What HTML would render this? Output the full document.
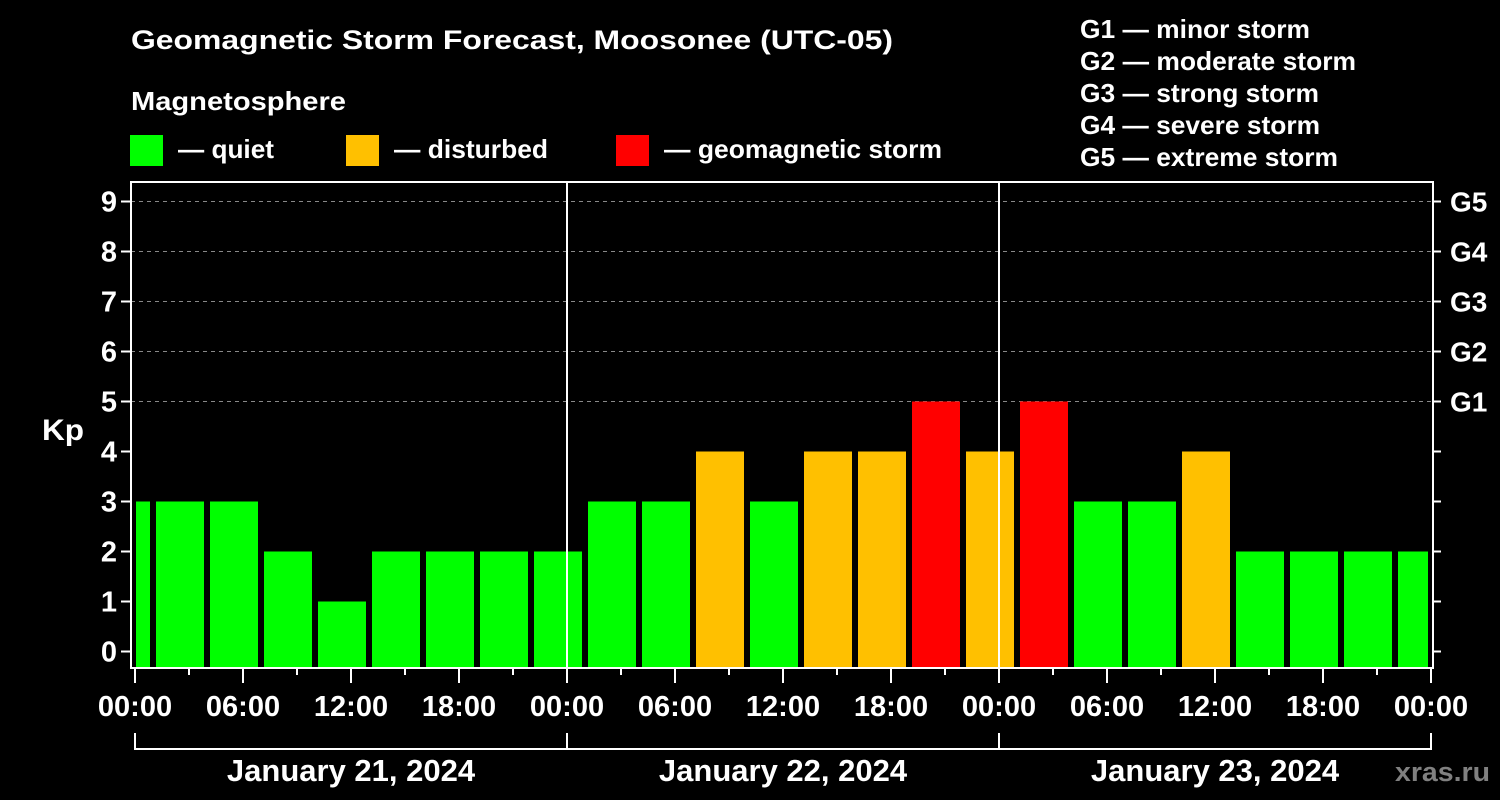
<!DOCTYPE html>
<html><head><meta charset="utf-8"><style>
html,body{margin:0;padding:0;background:#000;}
svg{display:block;font-family:"Liberation Sans",Arial,sans-serif;font-weight:bold;}
</style></head><body>
<svg id="chart" width="1500" height="800" viewBox="0 0 1500 800">
<rect x="0" y="0" width="1500" height="800" fill="#000"/>
<text x="131" y="49" fill="#fff" font-size="27" textLength="762" lengthAdjust="spacingAndGlyphs">Geomagnetic Storm Forecast, Moosonee (UTC-05)</text>
<text x="131" y="110" fill="#fff" font-size="26" textLength="215" lengthAdjust="spacingAndGlyphs">Magnetosphere</text>
<g>
<rect x="130" y="135" width="33" height="31" fill="#00ff00"/>
<text x="178" y="158" fill="#fff" font-size="26" textLength="96" lengthAdjust="spacingAndGlyphs">— quiet</text></g>
<g>
<rect x="346" y="135" width="33" height="31" fill="#ffc000"/>
<text x="394" y="158" fill="#fff" font-size="26" textLength="154" lengthAdjust="spacingAndGlyphs">— disturbed</text></g>
<g>
<rect x="616" y="135" width="33" height="31" fill="#ff0000"/>
<text x="664" y="158" fill="#fff" font-size="26" textLength="278" lengthAdjust="spacingAndGlyphs">— geomagnetic storm</text></g>
<g fill="#fff" font-size="26">
<text x="1080" y="38" textLength="230" lengthAdjust="spacingAndGlyphs">G1 — minor storm</text>
<text x="1080" y="70" textLength="276" lengthAdjust="spacingAndGlyphs">G2 — moderate storm</text>
<text x="1080" y="102" textLength="239" lengthAdjust="spacingAndGlyphs">G3 — strong storm</text>
<text x="1080" y="134" textLength="240" lengthAdjust="spacingAndGlyphs">G4 — severe storm</text>
<text x="1080" y="166" textLength="258" lengthAdjust="spacingAndGlyphs">G5 — extreme storm</text>
</g>
<g id="grid"></g>
<g id="bars"></g>
<g id="axes"></g>
<text x="42" y="440" fill="#fff" font-size="30" textLength="42" lengthAdjust="spacingAndGlyphs">Kp</text>
<text x="1395" y="781" fill="#808080" font-size="27" textLength="95" lengthAdjust="spacingAndGlyphs">xras.ru</text>
</svg>
<script>
const barStartHours = [-2,1,4,7,10,13,16,19,22,25,28,31,34,37,40,43,46,49,52,55,58,61,64,67,70];
const kpValues = [3,3,3,2,1,2,2,2,2,3,3,4,3,4,4,5,4,5,3,3,4,2,2,2,2];
const yTicks = [0,1,2,3,4,5,6,7,8,9];
const gLevels = ["G1","G2","G3","G4","G5"];
const gKp = [5,6,7,8,9];
const xTickLabels = ["00:00","06:00","12:00","18:00","00:00","06:00","12:00","18:00","00:00","06:00","12:00","18:00","00:00"];
const dayLabels = ["January 21, 2024","January 22, 2024","January 23, 2024"];

const NS="http://www.w3.org/2000/svg";
const L=131,R=1433,T=182,B=668;
const x=h=>135+h*18;
const y=v=>651.5-v*50;
function mk(tag,attrs,parent){const e=document.createElementNS(NS,tag);for(const k in attrs)e.setAttribute(k,attrs[k]);parent.appendChild(e);return e;}
const grid=document.getElementById('grid'),bars=document.getElementById('bars'),axes=document.getElementById('axes');

gKp.forEach(v=>{
  const ln=mk('line',{x1:L,x2:R,y1:y(v),y2:y(v),stroke:'#888','stroke-width':1,'stroke-dasharray':'4,4'},grid);
  
  
});
function color(v){return v>=5?'#ff0000':(v>=4?'#ffc000':'#00ff00');}
barStartHours.forEach((h,i)=>{
  let x0=Math.max(x(h)+3,L+5), x1=Math.min(x(h+3)-3,R-5);
  const r=mk('rect',{x:x0,y:y(kpValues[i]),width:x1-x0,height:B-y(kpValues[i]),fill:color(kpValues[i])},bars);
  
  
});
[24,48].forEach(h=>{
  const s=mk('line',{x1:x(h),x2:x(h),y1:T,y2:B,stroke:'#fff','stroke-width':2},axes);
  
  
});
const frame=mk('rect',{x:L,y:T,width:R-L,height:B-T,fill:'none',stroke:'#fff','stroke-width':2},axes);


yTicks.forEach(v=>{
  mk('line',{x1:L-10,x2:L,y1:y(v),y2:y(v),stroke:'#fff','stroke-width':2},axes);
  mk('line',{x1:R,x2:R+8,y1:y(v),y2:y(v),stroke:'#fff','stroke-width':2},axes);
  const t=mk('text',{x:117,y:y(v)+10,fill:'#fff','font-size':29,'text-anchor':'end'},axes);
  t.textContent=v;
  
  
});
gLevels.forEach((g,i)=>{
  const t=mk('text',{x:1450,y:y(gKp[i])+10,fill:'#fff','font-size':28},axes);
  t.textContent=g;
  
  
});
for(let h=0;h<=72;h+=3){
  const major=h%6===0;
  mk('line',{x1:x(h),x2:x(h),y1:B,y2:B+(major?15:7),stroke:'#fff','stroke-width':2},axes);
}
xTickLabels.forEach((s,i)=>{
  const t=mk('text',{x:x(i*6),y:716,fill:'#fff','font-size':29,'text-anchor':'middle'},axes);
  t.textContent=s;
  
  
});
mk('line',{x1:x(0),x2:x(72),y1:749,y2:749,stroke:'#fff','stroke-width':2},axes);
[0,24,48,72].forEach(h=>mk('line',{x1:x(h),x2:x(h),y1:733,y2:750,stroke:'#fff','stroke-width':2},axes));
dayLabels.forEach((s,i)=>{
  const t=mk('text',{x:x(i*24+12),y:781,fill:'#fff','font-size':31,'text-anchor':'middle'},axes);
  t.textContent=s;
  
  
});
</script>
</body></html>
